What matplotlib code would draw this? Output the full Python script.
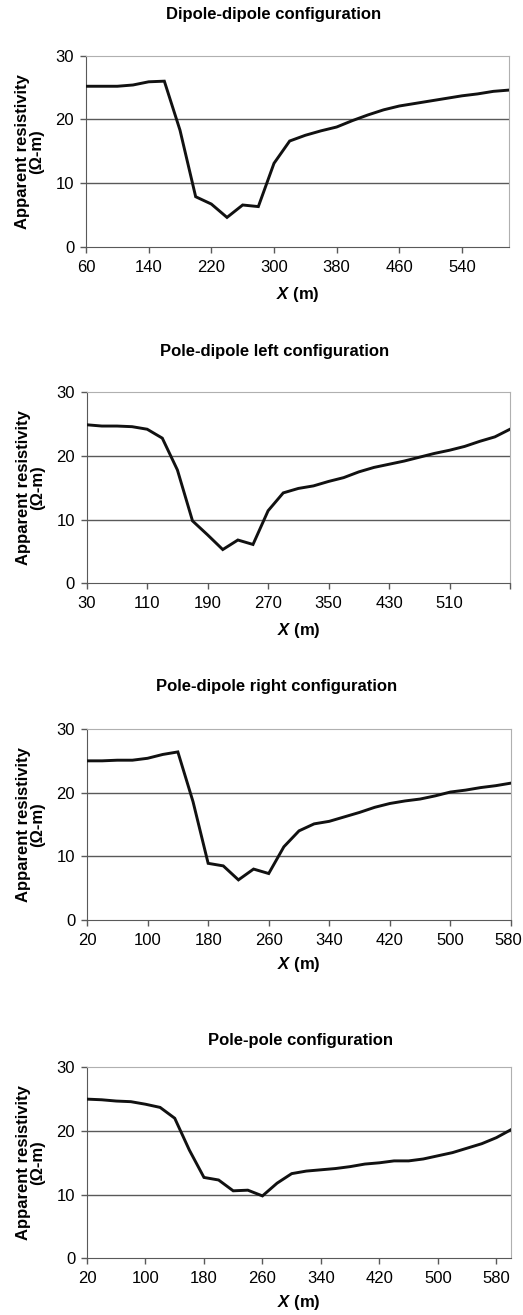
import numpy as np
import matplotlib
matplotlib.use('Agg')
from matplotlib import pyplot as plt
from matplotlib.transforms import ScaledTranslation

plt.rcParams['font.family'] = ['Liberation Sans', 'DejaVu Sans']
plt.rcParams['mathtext.fontset'] = 'custom'
plt.rcParams['mathtext.it'] = 'Liberation Sans:bold:italic'
plt.rcParams['mathtext.rm'] = 'Liberation Sans:bold'

# ---- data ----
x_dd = [60, 80, 100, 120, 140, 160, 180, 200, 220, 240, 260, 280, 300, 320,
        340, 360, 380, 400, 420, 440, 460, 480, 500, 520, 540, 560, 580, 600]
rho_dd = [25.2, 25.2, 25.2, 25.4, 25.9, 26.0, 18.3, 7.85, 6.7, 4.6, 6.55, 6.3, 13.1, 16.6,
          17.5, 18.2, 18.8, 19.8, 20.7, 21.5, 22.1, 22.5, 22.9, 23.3, 23.7, 24.0, 24.4, 24.6]

x_pdl = [30, 50, 70, 90, 110, 130, 150, 170, 190, 210, 230, 250, 270, 290, 310,
         330, 350, 370, 390, 410, 430, 450, 470, 490, 510, 530, 550, 570, 590]
rho_pdl = [24.9, 24.7, 24.7, 24.6, 24.2, 22.8, 17.8, 9.8, 7.6, 5.3, 6.8, 6.1, 11.4, 14.2, 14.9,
           15.3, 16.0, 16.6, 17.5, 18.2, 18.7, 19.2, 19.8, 20.4, 20.9, 21.5, 22.3, 23.0, 24.2]

x_pdr = [20, 40, 60, 80, 100, 120, 140, 160, 180, 200, 220, 240, 260, 280, 300,
         320, 340, 360, 380, 400, 420, 440, 460, 480, 500, 520, 540, 560, 580]
rho_pdr = [25.0, 25.0, 25.1, 25.1, 25.4, 26.0, 26.4, 18.6, 8.9, 8.5, 6.3, 8.0, 7.3, 11.5, 14.0,
           15.1, 15.5, 16.2, 16.9, 17.7, 18.3, 18.7, 19.0, 19.5, 20.1, 20.4, 20.8, 21.1, 21.5]

x_pp = [20, 40, 60, 80, 100, 120, 140, 160, 180, 200, 220, 240, 260, 280, 300,
        320, 340, 360, 380, 400, 420, 440, 460, 480, 500, 520, 540, 560, 580, 600]
rho_pp = [25.0, 24.9, 24.7, 24.6, 24.2, 23.7, 22.0, 17.0, 12.7, 12.3, 10.6, 10.7, 9.8, 11.8, 13.3,
          13.7, 13.9, 14.1, 14.4, 14.8, 15.0, 15.3, 15.3, 15.6, 16.1, 16.6, 17.3, 18.0, 18.95, 20.2]

titles = ['Dipole-dipole configuration', 'Pole-dipole left configuration',
          'Pole-dipole right configuration', 'Pole-pole configuration']
xticks_dd = [60, 140, 220, 300, 380, 460, 540]
xticks_pdl = [30, 110, 190, 270, 350, 430, 510, 590]
xlabels_pdl = ['30', '110', '190', '270', '350', '430', '510', '']
xticks_pdr = [20, 100, 180, 260, 340, 420, 500, 580]
xticks_pp = [20, 100, 180, 260, 340, 420, 500, 580]
yticks = [0, 10, 20, 30]

panels = [
    (x_dd, rho_dd, xticks_dd, [str(t) for t in xticks_dd], (60, 600)),
    (x_pdl, rho_pdl, xticks_pdl, xlabels_pdl, (30, 590)),
    (x_pdr, rho_pdr, xticks_pdr, [str(t) for t in xticks_pdr], (20, 580)),
    (x_pp, rho_pp, xticks_pp, [str(t) for t in xticks_pp], (20, 600)),
]

# axes boxes in pixels (left, right, top, bottom) and title pos
W, H = 523, 1315
boxes = [(86, 509, 55.7, 246.7), (86.7, 510, 392.3, 583.3),
         (87, 511, 729, 920), (87, 511, 1067.3, 1258.3)]
title_pos = [(274, 15), (275, 352), (277, 687), (300, 1040)]
xlab_y = [294, 630, 965, 1303]

dark = '#595959'
light = '#b0b0b0'

fig = plt.figure(figsize=(W / 100, H / 100), dpi=100)

for i, (xs, ys, xt, xtl, xl) in enumerate(panels):
    l, r, t, b = boxes[i]
    ax = fig.add_axes([l / W, 1 - b / H, (r - l) / W, (b - t) / H])
    for v in yticks[1:-1]:
        ax.axhline(v, color=dark, lw=1.0, zorder=1)
    ax.plot(xs, ys, color='#111111', lw=2.1, zorder=3, solid_joinstyle='miter')
    ax.set_xlim(*xl)
    ax.set_ylim(0, 30)
    ax.set_xticks(xt)
    ax.set_xticklabels(xtl)
    ax.set_yticks(yticks)
    ax.tick_params(direction='out', length=4.5, width=1, color=dark, labelsize=12)
    ax.tick_params(axis='y', pad=4)
    ax.tick_params(axis='x', pad=5)
    # last label sitting on the right edge gets nudged in a little
    if xt[-1] == xl[1] and xtl[-1]:
        lab = ax.get_xticklabels()[-1]
        lab.set_transform(lab.get_transform() + ScaledTranslation(-3 / 100, 0, fig.dpi_scale_trans))
    ax.spines['left'].set_color(dark)
    ax.spines['bottom'].set_color(dark)
    ax.spines['top'].set_color(light)
    ax.spines['right'].set_color(light)
    ax.set_ylabel('Apparent resistivity\n(\u03a9-m)', fontsize=12, fontweight='bold',
                  linespacing=0.95, labelpad=8)
    fig.text(title_pos[i][0] / W, 1 - title_pos[i][1] / H, titles[i],
             ha='center', va='center', fontsize=12, fontweight='bold')
    fig.text(((l + r) / 2) / W, 1 - xlab_y[i] / H, r'$X$ (m)',
             ha='center', va='center', fontsize=12, fontweight='bold')

fig.savefig('out.png', dpi=100)
